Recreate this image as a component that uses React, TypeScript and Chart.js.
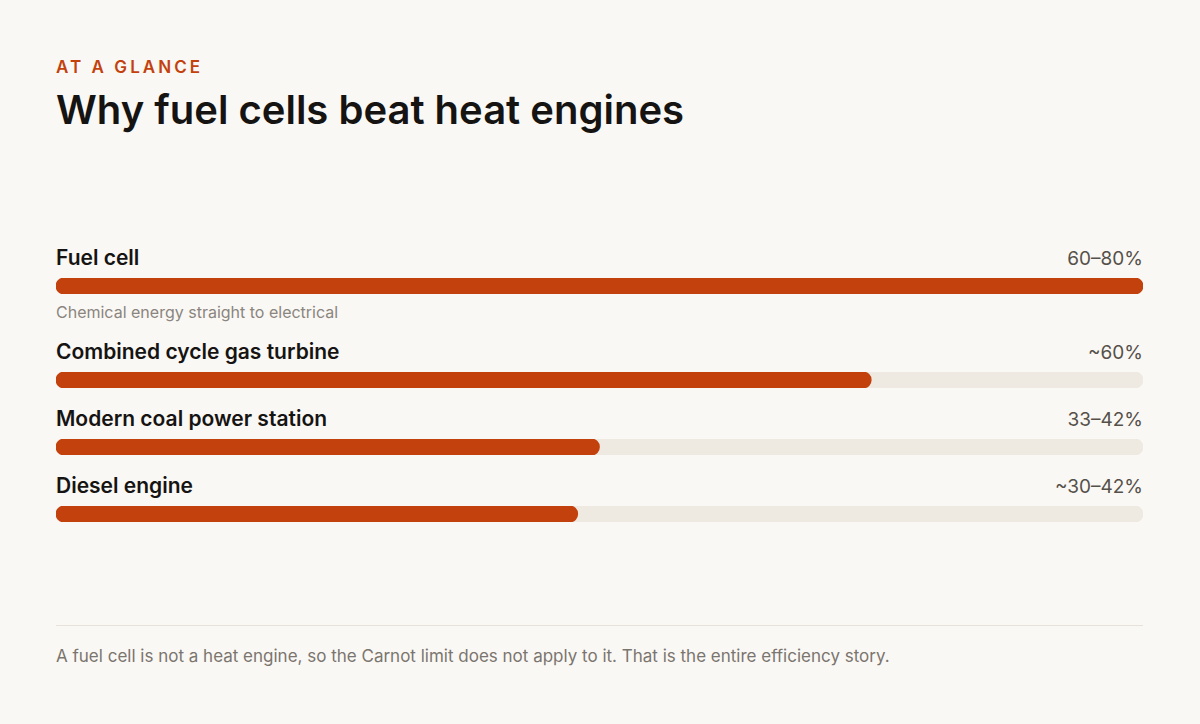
import React, { useEffect, useRef } from "react";
import { Chart, registerables } from "chart.js";

Chart.register(...registerables);

const kicker = "AT A GLANCE";
const title = "Why fuel cells beat heat engines";
const categories = ["Fuel cell", "Combined cycle gas turbine", "Modern coal power station", "Diesel engine"];
const values = [80, 60, 40, 38.4];
const valueLabels = ["60–80%", "~60%", "33–42%", "~30–42%"];
const notes = ["Chemical energy straight to electrical", "", "", ""];
const scaleMax = 80;
const footer = "A fuel cell is not a heat engine, so the Carnot limit does not apply to it. That is the entire efficiency story.";

const ORANGE = "#C2410C";
const TRACK = "#EEE9E1";
const BG = "#FAF8F5";
const FONT = "Inter, 'Noto Sans', sans-serif";

function BarRow({ value }: { value: number }) {
  const ref = useRef<HTMLCanvasElement | null>(null);
  useEffect(() => {
    if (!ref.current) return;
    const chart = new Chart(ref.current, {
      type: "bar",
      data: {
        labels: [""],
        datasets: [
          {
            data: [value],
            backgroundColor: ORANGE,
            borderRadius: 8,
            borderSkipped: false,
            grouped: false,
            order: 0,
            barPercentage: 1,
            categoryPercentage: 1,
          },
          {
            data: [scaleMax],
            backgroundColor: TRACK,
            borderRadius: 8,
            borderSkipped: false,
            grouped: false,
            order: 1,
            barPercentage: 1,
            categoryPercentage: 1,
          },
        ],
      },
      options: {
        indexAxis: "y",
        animation: false,
        responsive: true,
        maintainAspectRatio: false,
        layout: { padding: 0 },
        plugins: { legend: { display: false }, tooltip: { enabled: false } },
        scales: {
          x: { display: false, min: 0, max: scaleMax },
          y: { display: false },
        },
      },
    });
    return () => chart.destroy();
  }, [value]);
  return (
    <div style={{ position: "relative", width: "100%", height: 16 }}>
      <canvas ref={ref} />
    </div>
  );
}

export default function App() {
  const rowMargins = [0, 18, 19, 19];
  return (
    <div
      style={{
        position: "fixed",
        inset: 0,
        background: BG,
        fontFamily: FONT,
        overflow: "hidden",
      }}
    >
      <div style={{ position: "absolute", left: 56, width: 1087, top: 0 }}>
        <div
          style={{
            position: "absolute",
            top: 57,
            left: 0,
            fontSize: 17,
            lineHeight: "20px",
            fontWeight: 600,
            letterSpacing: "0.18em",
            color: ORANGE,
            whiteSpace: "nowrap",
          }}
        >
          {kicker}
        </div>
        <div
          style={{
            position: "absolute",
            top: 86,
            left: 0,
            fontSize: 40,
            lineHeight: "48px",
            fontWeight: 600,
            color: "#161412",
            whiteSpace: "nowrap",
          }}
        >
          {title}
        </div>
        <div style={{ position: "absolute", top: 246, left: 0, width: 1087 }}>
          {categories.map((c, i) => (
            <div key={c} style={{ marginTop: rowMargins[i] }}>
              <div
                style={{
                  display: "flex",
                  justifyContent: "space-between",
                  alignItems: "baseline",
                  height: 24,
                  lineHeight: "24px",
                }}
              >
                <span style={{ fontSize: 21, fontWeight: 600, color: "#161412" }}>{c}</span>
                <span style={{ fontSize: 19, fontWeight: 400, color: "#555049" }}>{valueLabels[i]}</span>
              </div>
              <div style={{ marginTop: 8 }}>
                <BarRow value={values[i]} />
              </div>
              {notes[i] ? (
                <div style={{ marginTop: 8, fontSize: 16, lineHeight: "20px", color: "#8a857e", height: 20 }}>{notes[i]}</div>
              ) : null}
            </div>
          ))}
        </div>
        <div style={{ position: "absolute", top: 625, left: 0, width: 1087, height: 1, background: "#E6E1D9" }} />
        <div
          style={{
            position: "absolute",
            top: 646,
            left: 0,
            fontSize: 17,
            lineHeight: "20px",
            color: "#7a756e",
            whiteSpace: "nowrap",
          }}
        >
          {footer}
        </div>
      </div>
    </div>
  );
}
